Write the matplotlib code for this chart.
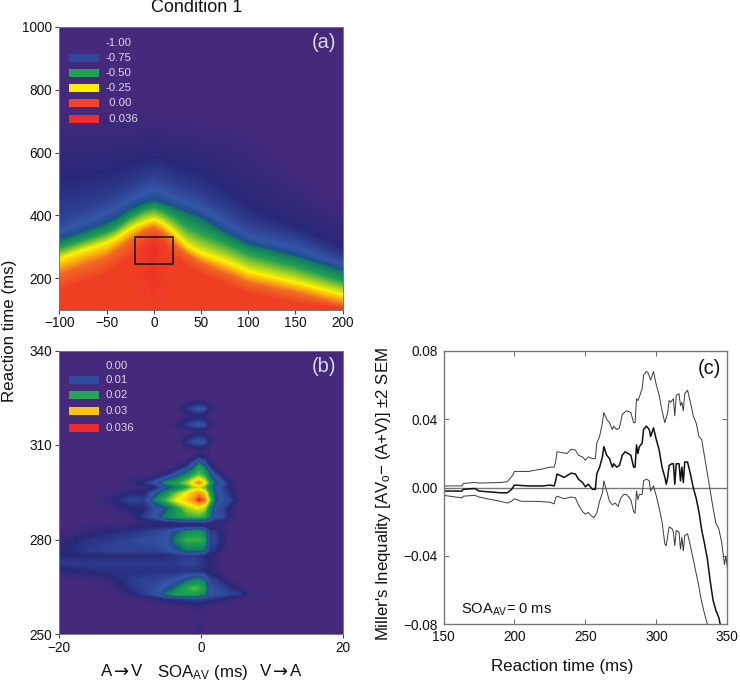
import numpy as np
import matplotlib
matplotlib.use("Agg")
import matplotlib.pyplot as plt
from matplotlib.colors import LinearSegmentedColormap
from matplotlib.patches import Rectangle

plt.rcParams['font.family'] = ['Liberation Sans', 'DejaVu Sans']
plt.rcParams['mathtext.fontset'] = 'custom'
plt.rcParams['mathtext.rm'] = 'Liberation Sans'
plt.rcParams['mathtext.default'] = 'rm'

# --------------------------------------------------
# Panel (a): RT at which each value is reached, per SOA column
# --------------------------------------------------
a_soa = [-100, -75, -50, -40, -25, -10, 0, 10, 20, 35, 50, 75, 100, 150, 200]
a_val_purple_top = [-1.0] * 15
a_rt_top = [1000] * 15
a_rt_m100 = [735, 735, 735, 735, 735, 735, 735, 735, 730, 725, 720, 714, 693, 555, 438]
a_rt_m88 = [512, 523, 533, 544, 560, 575, 585, 575, 565, 550, 530, 488, 425, 360, 298]
a_rt_m80 = [400, 420, 450, 465, 490, 515, 525, 515, 500, 485, 462, 420, 370, 330, 265]
a_rt_m72 = [347, 374, 406, 422, 448, 470, 480, 470, 454, 438, 422, 379, 332, 294, 241]
a_rt_m66 = [323, 347, 376, 389, 419, 440, 448, 440, 429, 410, 393, 347, 310, 272, 225]
a_rt_m62 = [316, 340, 369, 382, 412, 433, 441, 433, 422, 403, 386, 340, 303, 265, 218]
a_rt_m50 = [294, 319, 344, 358, 390, 414, 422, 411, 395, 363, 342, 310, 276, 236, 188]
a_rt_m25 = [259, 287, 310, 325, 355, 376, 385, 372, 348, 302, 278, 252, 220, 185, 146]
a_rt_m05 = [210, 236, 263, 284, 316, 348, 358, 342, 310, 273, 247, 215, 183, 151, 113]
a_rt_000 = [160, 185, 210, 235, 265, 312, 330, 310, 270, 240, 212, 180, 150, 118, 104]
a_rt_peak = [125, 150, 175, 195, 225, 285, 294, 280, 240, 215, 185, 155, 130, 106, 101]
a_val_peak = [0, 0, 0, 0, 0, 0.008, 0.026, 0.008, 0, 0, 0, 0, 0, 0, 0]
a_rt_bottom = [100] * 15

# --------------------------------------------------
# Panel (b): value x 1000, rows = RT, columns = SOA
# --------------------------------------------------
b_soa = [-20, -16, -12.5, -10, -8, -6.5, -5, -3.5, -2, -1, -0.3, 0.5, 1.2, 2, 3, 4, 5.5, 7, 20]
b_rt = [340, 324.5, 321.5, 319.2, 316.4, 314.3, 311, 308, 306, 303, 300.5, 298, 296.6, 294.6, 292.5,
        290, 287.2, 285.5, 284.5, 282.5, 279.8, 276.6, 275, 272.4, 269.8, 267, 264.5, 262.7,
        261.3, 259, 255.5, 252, 250]
b_mils = [
    [0, 0, 0, 0, 0, 0, 0, 0, 0, 0, 0, 0, 0, 0, 0, 0, 0, 0, 0],
    [0, 0, 0, 0, 0, 0, 0, 0, 0, 0, 0, 0, 0, 0, 0, 0, 0, 0, 0],
    [0, 0, 0, 0, 0, 0, 0, 0, 5, 8, 9, 8, 3, 0, 0, 0, 0, 0, 0],
    [0, 0, 0, 0, 0, 0, 0, 0, 1, 2, 3, 2, 0, 0, 0, 0, 0, 0, 0],
    [0, 0, 0, 0, 0, 0, 0, 2, 6, 8, 9, 8, 3, 0, 0, 0, 0, 0, 0],
    [0, 0, 0, 0, 0, 0, 0, 0, 0, 1, 2, 1, 0, 0, 0, 0, 0, 0, 0],
    [0, 0, 0, 0, 0, 0, 0, 0, 5, 8, 8.5, 8, 3, 0, 0, 0, 0, 0, 0],
    [0, 0, 0, 0, 0, 0, 0, 0, 0, 0, 1, 1, 0, 0, 0, 0, 0, 0, 0],
    [0, 0, 0, 0, 0, 0, 0, 0, 0, 2, 5, 3, 1, 0, 0, 0, 0, 0, 0],
    [0, 0, 0, 0, 0, 0, 0, 1, 6, 12, 19, 14, 6, 2, 0, 0, 0, 0, 0],
    [0, 0, 0, 0, 0, 1, 4, 10, 16, 20, 22, 20, 13, 8, 3, 0, 0, 0, 0],
    [0, 0, 0, 2, 5, 9, 16, 19, 24, 29, 33, 28, 19, 12, 9, 4, 0, 0, 0],
    [0, 0, 0, 0, 1, 3, 9, 14, 19, 24, 25, 22, 16, 10, 7, 3, 0, 0, 0],
    [0, 0, 1, 4, 4, 10, 17, 23, 28, 31, 33, 30, 20, 12, 8, 5, 0, 0, 0],
    [0, 0, 3, 7, 6, 15, 21, 27, 30, 33, 36, 34, 24, 13, 8, 7, 1, 0, 0],
    [0, 0, 1, 4, 4, 8, 11, 18, 24, 26, 27, 25, 16, 9, 7, 3, 0, 0, 0],
    [0, 0, 0, 1, 6, 9, 15, 18, 20, 21, 21, 20, 15, 8, 8, 3, 0, 0, 0],
    [0, 0, 0, 0, 2, 3, 4, 5, 6, 6, 6, 6, 5, 3, 3, 1, 0, 0, 0],
    [0, 1, 2, 2, 3, 3, 3, 2, 2, 2, 2, 2, 1.5, 1, 1, 0, 0, 0, 0],
    [0, 2, 4, 5, 6, 7, 8, 12, 16, 17, 17, 15, 6, 6, 3, 0, 0, 0, 0],
    [2, 5, 6, 7, 8, 8, 9, 15, 21, 21, 21, 19, 7, 7, 3, 0, 0, 0, 0],
    [3, 6, 7, 7, 7, 7, 8, 11, 14, 14, 14, 13, 6, 5, 2, 0, 0, 0, 0],
    [4, 4, 4, 4, 4, 4, 4, 5, 6, 6, 5, 4, 3, 2, 1, 0, 0, 0, 0],
    [6, 6, 6, 6, 6, 6, 6, 6, 7, 7, 6, 5, 3, 2, 0, 0, 0, 0, 0],
    [2, 4, 5, 5, 5, 5, 5, 5, 5, 5, 5, 4, 3, 2, 1, 0, 0, 0, 0],
    [0, 0, 2, 6, 7, 7, 8, 9, 13, 15, 16, 14, 7, 6, 4, 1, 0, 0, 0],
    [0, 0, 1, 5, 7, 8, 10, 14, 20, 22, 21, 18, 9, 8, 7, 5, 2, 0, 0],
    [0, 0, 0, 2, 6, 8, 14, 19, 19, 19, 18, 15, 9, 8, 8, 7, 6, 1, 0],
    [0, 0, 0, 0, 1, 3, 5, 6, 7, 7, 7, 6, 6, 5, 4, 2, 1, 0, 0],
    [0, 0, 0, 0, 0, 0, 0, 0, 1, 2, 2.5, 2, 1, 0, 0, 0, 0, 0, 0],
    [0, 0, 0, 0, 0, 0, 0, 0, 0, 0, 0, 0, 0, 0, 0, 0, 0, 0, 0],
    [0, 0, 0, 0, 0, 0, 0, 0, 0, 1, 3, 1, 0, 0, 0, 0, 0, 0, 0],
    [0, 0, 0, 0, 0, 0, 0, 0, 0, 0, 1, 0, 0, 0, 0, 0, 0, 0, 0],
]

# --------------------------------------------------
# Panel (c): Miller's inequality with +/- 2 SEM
# --------------------------------------------------
upper_rt = [150, 163, 164, 172, 175, 190, 195, 199, 200, 210, 220, 225, 228, 229, 230, 237, 240,
            243, 245, 248, 250, 252, 255, 257, 258, 260, 262, 263, 265, 267, 269, 270, 272, 274,
            276, 279, 282, 284, 285, 286, 287, 288, 290, 291, 293, 294, 296, 298, 300, 302, 304,
            306, 308, 309, 310, 312, 313, 314, 316, 317, 318, 319, 320, 322, 324, 326, 328, 330,
            332, 334, 336, 338, 340, 342, 344, 346, 348, 349, 350]
upper = [.001, .001, .0025, .003, .0027, .003, .0035, .0075, .0095, .0095, .011, .012, .012, .015,
         .021, .020, .0225, .022, .019, .018, .016, .018, .017, .017, .026, .030, .038, .044, .040,
         .038, .034, .036, .034, .035, .043, .045, .044, .038, .038, .052, .051, .053, .058, .066,
         .068, .0675, .063, .068, .060, .054, .045, .038, .044, .051, .050, .052, .042, .054, .055,
         .048, .050, .045, .055, .057, .050, .042, .038, .030, .028, .018, .008, -.002, -.012,
         -.021, -.024, -.032, -.045, -.040, -.047]

mid_rt = [150, 163, 164, 172, 175, 190, 195, 198, 200, 210, 220, 225, 228, 229, 230, 235, 240,
          243, 245, 248, 250, 252, 255, 257, 258, 260, 262, 263, 265, 267, 269, 270, 272, 274,
          276, 278, 282, 284, 285, 286, 287, 288, 290, 291, 293, 295, 296, 298, 300, 302, 304,
          306, 307, 308, 309, 311, 312, 313, 314, 316, 317, 318, 319, 320, 322, 324, 326, 328,
          330, 332, 334, 336, 338, 340, 342, 344, 345]
mid = [-.002, -.002, -.001, -.0005, -.002, -.003, -.003, -.001, .0015, .001, .001, .0015, .001, .004,
       .008, .006, .0085, .008, .005, .003, .0005, .002, -.001, -.001, .008, .012, .018, .024, .019,
       .017, .012, .014, .012, .013, .019, .021, .019, .012, .012, .025, .020, .024, .026, .034,
       .036, .034, .030, .035, .028, .022, .012, .006, .002, .006, .013, .014, .014, .002, .014,
       .014, .004, .012, .003, .015, .015, .008, .0, -.006, -.014, -.025, -.033, -.042, -.055,
       -.066, -.072, -.076, -.080]

lower_rt = [150, 163, 164, 172, 175, 190, 195, 198, 200, 205, 215, 225, 228, 229, 230, 235, 240,
            243, 245, 248, 250, 252, 254, 256, 258, 260, 262, 263, 265, 267, 269, 271, 273, 275,
            277, 279, 282, 284, 285, 286, 287, 288, 290, 291, 293, 295, 296, 298, 300, 302, 304,
            306, 307, 308, 309, 311, 312, 313, 314, 316, 317, 318, 319, 320, 322, 324, 326, 328,
            330, 331, 332, 334, 336]
lower = [-.0045, -.006, -.005, -.0045, -.0055, -.008, -.009, -.008, -.0065, -.008, -.008, -.0085,
         -.0095, -.006, -.005, -.0065, -.0055, -.006, -.010, -.014, -.0155, -.0145, -.0165, -.0175,
         -.015, -.008, -.003, .004, -.002, -.008, -.010, -.009, -.011, -.006, -.004, -.004, -.007,
         -.014, -.015, -.002, -.007, -.004, -.004, .004, .005, .004, -.002, .001, -.005, -.012,
         -.020, -.033, -.034, -.028, -.023, -.024, -.026, -.034, -.025, -.026, -.036, -.029, -.037,
         -.028, -.027, -.034, -.042, -.050, -.058, -.063, -.067, -.074, -.080]

# Legend text and swatch colours
a_legend_labels = ["-1.00", "-0.75", "-0.50", "-0.25", " 0.00", " 0.036"]
a_legend_colors = [None, "#2f469c", "#1fa24f", "#ffed00", "#f0452b", "#ee2a2c"]
b_legend_labels = ["0.00", "0.01", "0.02", "0.03", "0.036"]
b_legend_colors = [None, "#2f4a9f", "#22a750", "#ffc20e", "#ee2a2c"]

# colormaps (value, colour)
a_cmap_nodes = [(-1.0, "#45297a"), (-0.88, "#282878"), (-0.72, "#3355a8"), (-0.66, "#1d4f8c"),
                (-0.62, "#0f7a60"), (-0.5, "#22a04f"), (-0.25, "#fff200"), (-0.05, "#f26a24"),
                (0.0, "#ef4023"), (0.036, "#e8262a")]
b_cmap_nodes = [(0.0, "#45297a"), (0.004, "#282878"), (0.009, "#3355a8"), (0.0125, "#1d4f8c"),
                (0.014, "#0f7a60"), (0.02, "#1fa64f"), (0.028, "#fff200"), (0.03, "#ffc20e"),
                (0.033, "#f7941d"), (0.036, "#ee3124")]

PURPLE_TEXT = "#dcd8e8"
INK = "#111111"
W, H = 740.0, 684.0


def make_cmap(nodes):
    lo, hi = nodes[0][0], nodes[-1][0]
    return LinearSegmentedColormap.from_list(
        "m", [((v - lo) / (hi - lo), c) for v, c in nodes], N=512), lo, hi


def add_axes_px(fig, left, top, right, bottom):
    return fig.add_axes([left / W, 1 - bottom / H, (right - left) / W, (bottom - top) / H])


def style_heat(ax):
    for s in ax.spines.values():
        s.set_color("#777777")
        s.set_linewidth(0.7)
    ax.tick_params(direction="out", length=3, width=0.8, color="#444444",
                   labelsize=9.8, pad=2, labelcolor=INK)


def draw_legend(fig, labels, colors, label_y, swatch_y):
    for lab, col, ly, sy in zip(labels, colors, label_y, swatch_y):
        fig.text(106 / W, 1 - ly / H, lab, color=PURPLE_TEXT, fontsize=8.2, va="center")
        if col is not None:
            fig.patches.append(Rectangle((69 / W, 1 - (sy + 4.2) / H), 29.5 / W, 8.4 / H,
                                         transform=fig.transFigure, facecolor=col,
                                         edgecolor="none", zorder=5, figure=fig))


def text_px(fig, x, y, s, **kw):
    kw.setdefault("ha", "center")
    kw.setdefault("va", "center")
    kw.setdefault("color", INK)
    return fig.text(x / W, 1 - y / H, s, **kw)


fig = plt.figure(figsize=(7.4, 6.84), dpi=100)

# --------------------------------------------------
# (a)
# --------------------------------------------------
ax_a = add_axes_px(fig, 59.3, 27, 342.7, 309.5)
a_rows = [a_rt_top, a_rt_m100, a_rt_m88, a_rt_m80, a_rt_m72, a_rt_m66, a_rt_m62, a_rt_m50,
          a_rt_m25, a_rt_m05, a_rt_000, a_rt_peak, a_rt_bottom]
a_vals = [a_val_purple_top, [-1.0] * 15, [-0.88] * 15, [-0.8] * 15, [-0.72] * 15, [-0.66] * 15,
          [-0.62] * 15, [-0.5] * 15, [-0.25] * 15, [-0.05] * 15, [0.0] * 15, a_val_peak, [0.0] * 15]
X_a = np.tile(a_soa, (len(a_rows), 1))
cmap_a, lo_a, hi_a = make_cmap(a_cmap_nodes)
ax_a.contourf(X_a, np.array(a_rows, float), np.array(a_vals), levels=np.linspace(lo_a, hi_a, 300),
              cmap=cmap_a, extend="both")
ax_a.add_patch(Rectangle((-20, 245), 40, 85, fill=False, edgecolor="#1a1010", linewidth=1.1))
ax_a.set_xlim(-100, 200)
ax_a.set_ylim(100, 1000)
ax_a.set_xticks([-100, -50, 0, 50, 100, 150, 200])
ax_a.set_yticks([200, 400, 600, 800, 1000])
style_heat(ax_a)
text_px(fig, 324, 43, "(a)", color=PURPLE_TEXT, fontsize=14.5)
draw_legend(fig, a_legend_labels, a_legend_colors,
            [43, 58, 73, 88, 103, 119], [43, 58, 73, 88, 103, 119])

# --------------------------------------------------
# (b)
# --------------------------------------------------
ax_b = add_axes_px(fig, 59.3, 350.5, 342.7, 634)
cmap_b, lo_b, hi_b = make_cmap(b_cmap_nodes)
ax_b.contourf(b_soa, b_rt, np.array(b_mils) / 1000.0, levels=np.linspace(lo_b, hi_b, 300),
              cmap=cmap_b, extend="both")
ax_b.set_xlim(-20, 20)
ax_b.set_ylim(250, 340)
ax_b.set_xticks([-20, 0, 20])
ax_b.set_yticks([250, 280, 310, 340])
style_heat(ax_b)
text_px(fig, 324, 367, "(b)", color=PURPLE_TEXT, fontsize=14.5)
draw_legend(fig, b_legend_labels, b_legend_colors,
            [366, 380, 395, 411, 428], [366, 380, 395, 411, 428])

# --------------------------------------------------
# (c)
# --------------------------------------------------
ax_c = add_axes_px(fig, 443.5, 351, 727.3, 624.3)
ax_c.axhline(0, color="#777777", linewidth=1.0, zorder=1)
ax_c.plot(upper_rt, upper, color="#3a3a3a", linewidth=0.7)
ax_c.plot(mid_rt, mid, color="#111111", linewidth=1.1)
ax_c.plot(lower_rt, lower, color="#3a3a3a", linewidth=0.7)
ax_c.set_xlim(150, 350)
ax_c.set_ylim(-0.08, 0.08)
ax_c.set_xticks([150, 200, 250, 300, 350])
ax_c.set_yticks([-0.08, -0.04, 0, 0.04, 0.08])
ax_c.set_yticklabels(["\u22120.08", "\u22120.04", "0.00", "0.04", "0.08"])
ax_c.tick_params(direction="in", length=3.5, width=0.7, color="#666666", top=True, right=True,
                 labelsize=9.8, pad=4, labelcolor=INK)
for s in ax_c.spines.values():
    s.set_color("#777777")
    s.set_linewidth(1.0)
text_px(fig, 709, 368, "(c)", fontsize=14.5)
text_px(fig, 461, 610, r"SOA$_{\mathrm{AV}}$= 0 ms", fontsize=10.5, ha="left")

# figure labels
text_px(fig, 197, 8, "Condition 1", fontsize=13)
text_px(fig, 10, 331, "Reaction time (ms)", fontsize=12.2, rotation=90)
text_px(fig, 107, 672, "A", fontsize=12.2)
text_px(fig, 122, 671.5, "\u2192", fontsize=13, family="DejaVu Sans")
text_px(fig, 137, 672, "V", fontsize=12.2)
text_px(fig, 202.5, 672, "SOA$_{\\mathrm{AV}}$ (ms)", fontsize=12.2)
text_px(fig, 266, 672, "V", fontsize=12.2)
text_px(fig, 281, 671.5, "\u2192", fontsize=13, family="DejaVu Sans")
text_px(fig, 296, 672, "A", fontsize=12.2)
text_px(fig, 383, 494, "Miller's Inequality [AV$_{\\mathrm{o}}$\u2212 (A+V)] \u00b12 SEM",
        fontsize=12.1, rotation=90)
text_px(fig, 562, 667, "Reaction time (ms)", fontsize=12.2)

fig.savefig("out.png", dpi=100)
